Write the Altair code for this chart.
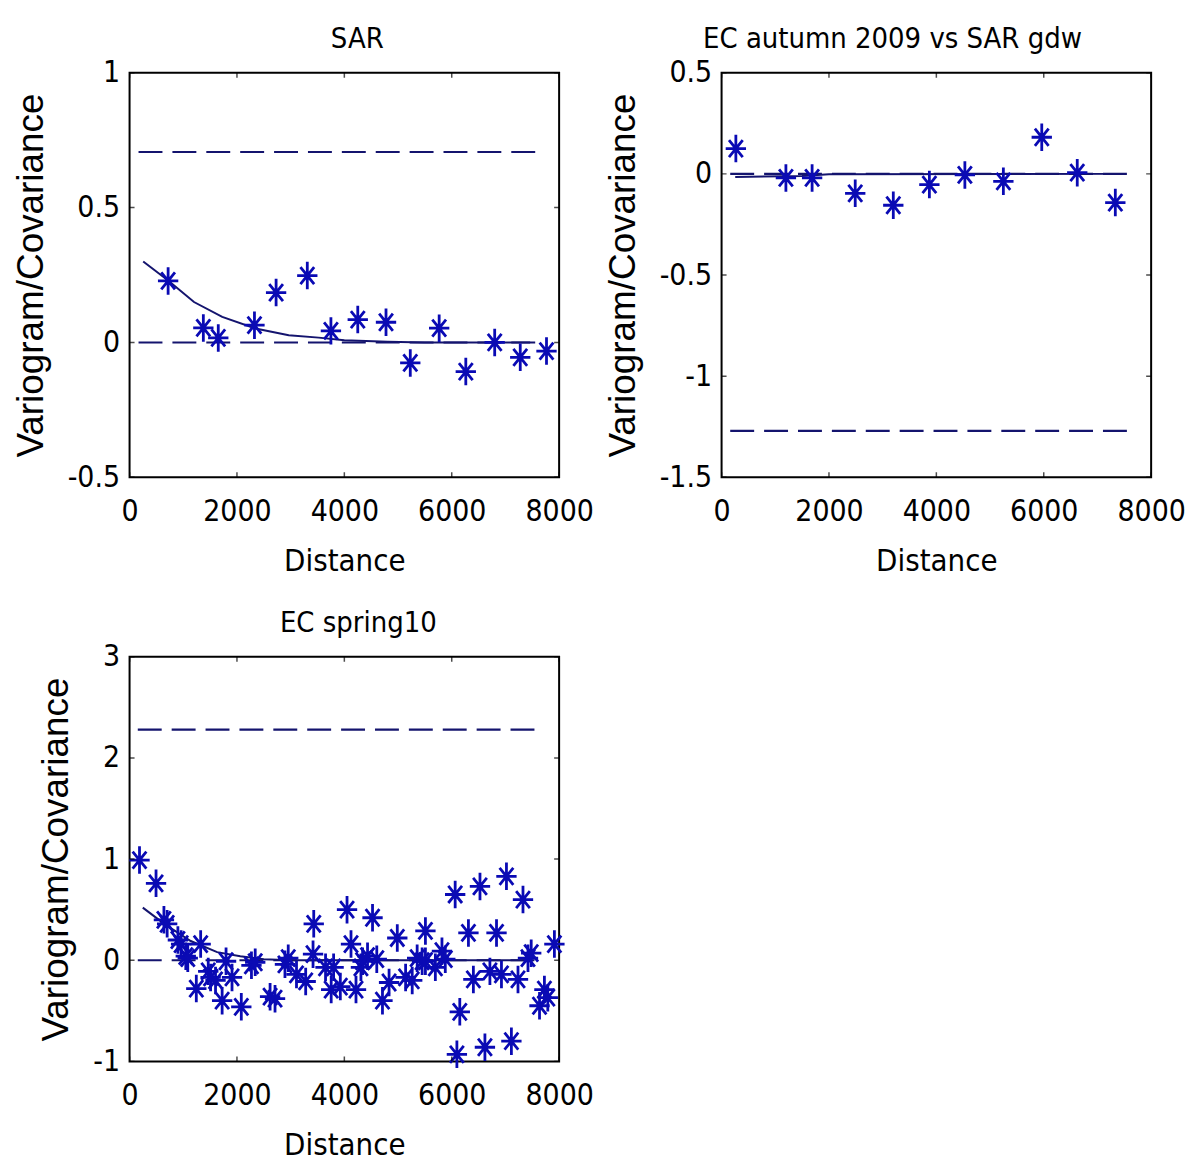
import altair as alt
import pandas as pd

# ---------------- data ----------------
x_ticks = [0, 2000, 4000, 6000, 8000]

# Panel 1: SAR
p1_dist = [718, 1374, 1652, 2326, 2729, 3310, 3750, 4250, 4776, 5228, 5766, 6262, 6800, 7276, 7765]
p1_val = [0.228, 0.054, 0.017, 0.064, 0.185, 0.248, 0.043, 0.085, 0.075, -0.076, 0.053, -0.108, 0.0, -0.055, -0.032]
p1_fit_dist = [254, 718, 1200, 1726, 2345, 2964, 3521, 4000, 4800, 5500, 7460]
p1_fit_val = [0.30, 0.23, 0.15, 0.095, 0.052, 0.027, 0.018, 0.008, 0.003, 0.0, 0.0]
p1_ref_val = [0.706, 0.0]
p1_ref_start = [167, 167]
p1_ref_end = [7720, 7720]
p1_yticks = [-0.5, 0, 0.5, 1]

# Panel 2: EC autumn 2009 vs SAR gdw
p2_dist = [266, 1198, 1686, 2489, 3198, 3870, 4531, 5248, 5963, 6624, 7333]
p2_val = [0.125, -0.02, -0.02, -0.096, -0.155, -0.053, -0.005, -0.037, 0.181, 0.006, -0.142]
p2_fit_dist = [254, 1500, 2000, 7460]
p2_fit_val = [-0.015, -0.01, -0.002, 0.0]
p2_ref_val = [-1.27, 0.0]
p2_ref_start = [161, 161]
p2_ref_end = [7692, 7692]
p2_yticks = [-1.5, -1, -0.5, 0, 0.5]

# Panel 3: EC spring10
p3_dist = [185, 493, 640, 700, 900, 960, 1047, 1084, 1243, 1324, 1465, 1509, 1601, 1724,
           1797, 1908, 2081, 2270, 2340, 2617, 2709, 2894, 2955, 3109, 3280, 3417, 3430,
           3650, 3755, 3800, 3925, 4050, 4124, 4217, 4309, 4340, 4432, 4525, 4604, 4710,
           4833, 4986, 5141, 5264, 5356, 5449, 5510, 5510, 5695, 5818, 5880, 6064, 6096,
           6150, 6311, 6403, 6526, 6618, 6711, 6834, 6926, 7019, 7111, 7234, 7327, 7420,
           7480, 7635, 7726, 7789, 7912]
p3_val = [0.99, 0.76, 0.40, 0.36, 0.20, 0.16, 0.04, 0.02, -0.28, 0.16, -0.11, -0.17, -0.20, -0.40,
          -0.01, -0.17, -0.46, -0.05, -0.02, -0.36, -0.38, -0.04, 0.02, -0.14, -0.21, 0.06, 0.36,
          -0.07, -0.29, -0.07, -0.26, 0.50, 0.16, -0.29, -0.07, -0.01, 0.04, 0.42, 0.01, -0.40,
          -0.22, 0.22, -0.17, -0.20, 0.02, -0.01, 0.29, -0.01, -0.07, 0.09, 0.01, 0.65, -0.93,
          -0.51, 0.27, -0.19, 0.73, -0.86, -0.11, 0.27, -0.14, 0.83, -0.80, -0.19, 0.60, 0.02,
          0.07, -0.45, -0.29, -0.37, 0.16]
p3_fit_dist = [246, 646, 1139, 1631, 2062, 2500, 3000, 7400]
p3_fit_val = [0.52, 0.36, 0.19, 0.08, 0.04, 0.01, 0.0, 0.0]
p3_ref_val = [2.28, 0.0]
p3_ref_start = [153, 153]
p3_ref_end = [7664, 7664]
p3_yticks = [-1, 0, 1, 2, 3]

# ---------------- styling ----------------
NARROW = ("Liberation Sans Narrow, Arial Narrow, Noto Sans ExtraCondensed, "
          "Noto Sans Condensed, DejaVu Sans Condensed, Liberation Sans, sans-serif")
REG = "Liberation Sans, Arial, sans-serif"
MARK_COLOR = "#0a0ab4"
LINE_COLOR = "#14146e"
W, H = 431, 406
STAR = ("M -0.74 0 L 0.74 0 M 0 -1 L 0 1 "
        "M -0.5 -0.62 L 0.5 0.62 M -0.5 0.62 L 0.5 -0.62")


def panel(dist, val, fit_d, fit_v, ref_v, ref_s, ref_e, ydom, yticks, title, dx):
    xs = alt.Scale(domain=[0, 8000], nice=False, zero=False)
    ys = alt.Scale(domain=ydom, nice=False, zero=False)
    xaxis = alt.Axis(values=x_ticks, ticks=False, domain=False, grid=False,
                     labelFont=NARROW, labelFontSize=30, labelColor="black",
                     labelPadding=19, labelExpr="datum.value + ''",
                     labelOverlap=False, labelFlush=False,
                     title="Distance", titleFont=NARROW, titleFontSize=31,
                     titleFontWeight="normal", titleColor="black", titlePadding=20)
    yaxis = alt.Axis(values=yticks, ticks=False, domain=False, grid=False,
                     labelFont=NARROW, labelFontSize=30, labelColor="black",
                     labelPadding=10, labelExpr="datum.value + ''",
                     labelOverlap=False, labelFlush=False,
                     title="Variogram/Covariance", titleFont=REG, titleFontSize=37,
                     titleFontWeight="normal", titleColor="black", titlePadding=17)

    pts = pd.DataFrame({"d": dist, "v": val})
    fit = pd.DataFrame({"d": fit_d, "v": fit_v})
    ref = pd.DataFrame({"s": ref_s, "e": ref_e, "v": ref_v})
    xt = pd.DataFrame({"t": x_ticks})
    yt = pd.DataFrame({"t": yticks})

    refl = alt.Chart(ref).mark_rule(color=LINE_COLOR, strokeWidth=2.2, strokeDash=[24, 10]).encode(
        x=alt.X("s:Q", scale=xs, axis=xaxis), x2="e:Q",
        y=alt.Y("v:Q", scale=ys, axis=yaxis))
    fitl = alt.Chart(fit).mark_line(color=LINE_COLOR, strokeWidth=2).encode(
        x=alt.X("d:Q", scale=xs), y=alt.Y("v:Q", scale=ys))
    ptsl = alt.Chart(pts).mark_point(shape=STAR, size=760, filled=False, color=MARK_COLOR,
                                     strokeWidth=2.8, opacity=1).encode(
        x=alt.X("d:Q", scale=xs), y=alt.Y("v:Q", scale=ys))
    tb = alt.Chart(xt).mark_tick(color="black", thickness=1.5, size=10, clip=True,
                                 orient="vertical").encode(
        x=alt.X("t:Q", scale=xs), y=alt.value(H))
    tt = alt.Chart(xt).mark_tick(color="black", thickness=1.5, size=10, clip=True,
                                 orient="vertical").encode(
        x=alt.X("t:Q", scale=xs), y=alt.value(0))
    tl = alt.Chart(yt).mark_tick(color="black", thickness=1.5, size=10, clip=True,
                                 orient="horizontal").encode(
        y=alt.Y("t:Q", scale=ys), x=alt.value(0))
    tr = alt.Chart(yt).mark_tick(color="black", thickness=1.5, size=10, clip=True,
                                 orient="horizontal").encode(
        y=alt.Y("t:Q", scale=ys), x=alt.value(W))

    return alt.layer(refl, fitl, ptsl, tb, tt, tl, tr).properties(
        width=W, height=H,
        title=alt.TitleParams(title, font=NARROW, fontSize=29, fontWeight="normal",
                              color="black", dx=dx, offset=4))


p1 = panel(p1_dist, p1_val, p1_fit_dist, p1_fit_val, p1_ref_val, p1_ref_start, p1_ref_end,
           [-0.5, 1], p1_yticks, "SAR", 13)
p2 = panel(p2_dist, p2_val, p2_fit_dist, p2_fit_val, p2_ref_val, p2_ref_start, p2_ref_end,
           [-1.5, 0.5], p2_yticks, "EC autumn 2009 vs SAR gdw", -44)
p3 = panel(p3_dist, p3_val, p3_fit_dist, p3_fit_val, p3_ref_val, p3_ref_start, p3_ref_end,
           [-1, 3], p3_yticks, "EC spring10", 14)

chart = alt.concat(p1, p2, p3, columns=2, spacing={"row": 180, "column": 163},
                   bounds="flush").properties(
    padding={"left": 11, "top": 22, "right": 5, "bottom": 5},
    background="white",
).configure_view(stroke="black", strokeWidth=2)

chart.save("out.html", embed_options={"renderer": "svg", "actions": False})
